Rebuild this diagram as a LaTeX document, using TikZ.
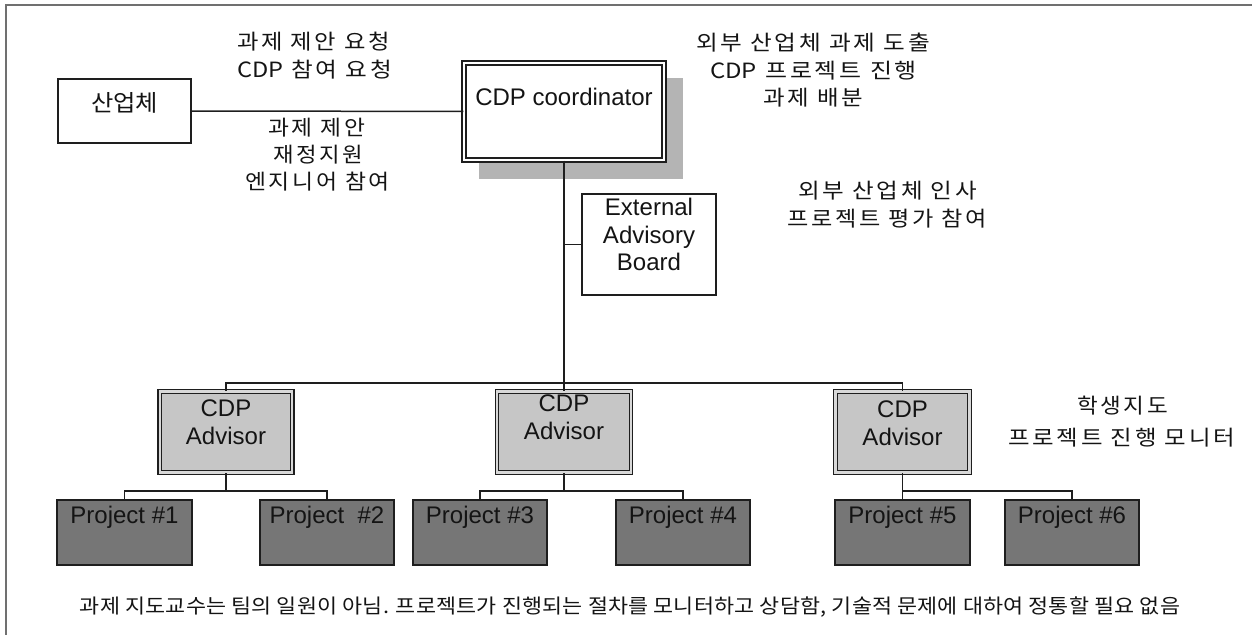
\documentclass[tikz,border=0pt]{standalone}
\usepackage{fontspec}
\usepackage{graphicx}
\setmainfont{Liberation Sans}
\newfontfamily\kr{Noto Sans CJK KR}
\newfontfamily\krA{Noto Sans CJK KR}[LetterSpace=12]
\newfontfamily\krB{Noto Sans CJK KR}[LetterSpace=1]
\newcommand\hfit[2]{\resizebox{#1pt}{\height}{#2}}
\definecolor{linec}{HTML}{1E1E1E}
\definecolor{txt}{HTML}{141414}
\definecolor{framec}{HTML}{707070}
\definecolor{shadowc}{HTML}{B4B4B4}
\definecolor{advfill}{HTML}{C6C6C6}
\definecolor{advgap}{HTML}{D8D8D8}
\definecolor{projfill}{HTML}{767676}
\tikzset{
  conn/.style={draw=linec, line width=1.5pt},
  plainbox/.style={draw=linec, line width=1.7pt, fill=white, inner sep=0pt},
  coordbox/.style={draw=linec, line width=1.4pt, double=white, double distance=2.4pt, fill=white, inner sep=0pt},
  advbox/.style={draw=linec, line width=1.3pt, double=advgap, double distance=2.2pt, fill=advfill, inner sep=0pt, minimum height=81pt},
  projbox/.style={draw=linec, line width=1.7pt, fill=projfill, inner sep=0pt, minimum width=134.4pt, minimum height=65.4pt},
  ltxt/.style={text=txt, inner sep=0pt, font=\fontsize{24}{28}\selectfont, align=center},
  klab/.style={text=txt, inner sep=0pt, font=\krA\fontsize{21}{23}\selectfont},
}
\begin{document}
\begin{tikzpicture}[x=1pt, y=-1pt]
\useasboundingbox (0,0) rectangle (1252,635);
% frame
\draw[draw=framec, line width=2pt] (1252,4.5) -- (6,4.5) -- (6,635);

% industry box
\node[plainbox, minimum width=133.4pt, minimum height=64.4pt,
  label={[text=txt, inner sep=0pt, font=\kr\fontsize{23}{25}\selectfont, yshift=8pt]center:{\hfit{67}{산업체}}}]
  (ind) at (124.5,111) {};

% coordinator with shadow
\fill[shadowc] (479,78) rectangle (683,179);
\node[coordbox, minimum width=200pt, minimum height=97pt,
  label={[ltxt, yshift=14.5pt]center:{CDP coordinator}}]
  (coord) at (564,111.5) {};

% external advisory board
\node[plainbox, minimum width=134.4pt, minimum height=100.4pt,
  label={[ltxt, font=\fontsize{24}{27.5}\selectfont, yshift=10pt]center:{External\\Advisory\\Board}}]
  (board) at (649,244.5) {};

% advisors
\node[advbox, minimum width=132.5pt, label={[ltxt, yshift=10pt]center:{CDP\\Advisor}}] (adv1) at (226,432) {};
\node[advbox, minimum width=134pt, label={[ltxt, yshift=14.5pt]center:{CDP\\Advisor}}] (adv2) at (564,432) {};
\node[advbox, minimum width=134pt, label={[ltxt, yshift=9pt]center:{CDP\\Advisor}}] (adv3) at (902.5,432) {};

% projects
\node[projbox, label={[ltxt, yshift=15.5pt]center:{Project \#1}}] (p1) at (124.5,532.5) {};
\node[projbox, label={[ltxt, yshift=15.5pt]center:{Project\ \ \#2}}] (p2) at (327,532.5) {};
\node[projbox, label={[ltxt, yshift=15.5pt]center:{Project \#3}}] (p3) at (480,532.5) {};
\node[projbox, label={[ltxt, yshift=15.5pt]center:{Project \#4}}] (p4) at (683,532.5) {};
\node[projbox, label={[ltxt, yshift=15.5pt]center:{Project \#5}}] (p5) at (902.5,532.5) {};
\node[projbox, label={[ltxt, yshift=15.5pt]center:{Project \#6}}] (p6) at (1072,532.5) {};

% junction coordinates
\coordinate (bar) at (564,383);
\coordinate (j1) at (226,491);
\coordinate (j2) at (564,491);
\coordinate (j3) at (902.5,491);

% connectors
\draw[conn] (ind) -- (coord);
\draw[conn] (coord.south) -- (adv2.north);
\draw[conn] (board.west -| coord.south) -- (board.west);
\draw[conn] (adv1.north) |- (bar) -| (adv3.north);
\draw[conn] (adv1.south) -- (j1);
\draw[conn] (p1.north) |- (j1) -| (p2.north);
\draw[conn] (adv2.south) -- (j2);
\draw[conn] (p3.north) |- (j2) -| (p4.north);
\draw[conn] (adv3.south) -- (p5.north);
\draw[conn] (j3) -| (p6.north);

% Korean labels
\node[klab] (k1) at (313.5,42) {\hfit{153}{과제 제안 요청}};
\node[klab] (k2) at (314.5,70) {\hfit{155}{{\kr CDP} 참여 요청}};
\node[klab] (k3) at (316.5,128) {\hfit{97}{과제 제안}};
\node[klab] (k4) at (318,155) {\hfit{90}{재정지원}};
\node[klab] (k5) at (317.5,182) {\hfit{145}{엔지니어 참여}};
\node[klab] (r1) at (813,43) {\hfit{234}{외부 산업체 과제 도출}};
\node[klab] (r2) at (813.5,71) {\hfit{207}{{\kr CDP} 프로젝트 진행}};
\node[klab] (r3) at (813,98) {\hfit{100}{과제 배분}};
\node[klab] (b1) at (887.5,191) {\hfit{179}{외부 산업체 인사}};
\node[klab] (b2) at (887,219) {\hfit{200}{프로젝트 평가 참여}};
\node[klab] (s1) at (1122.5,406) {\hfit{91}{학생지도}};
\node[klab] (s2) at (1121.5,438) {\hfit{227}{프로젝트 진행 모니터}};
\node[text=txt, inner sep=0pt, font=\krB\fontsize{20}{22}\selectfont] (note) at (630,607)
  {\hfit{1100}{과제 지도교수는 팀의 일원이 아님. 프로젝트가 진행되는 절차를 모니터하고 상담함, 기술적 문제에 대하여 정통할 필요 없음}};
\end{tikzpicture}
\end{document}
